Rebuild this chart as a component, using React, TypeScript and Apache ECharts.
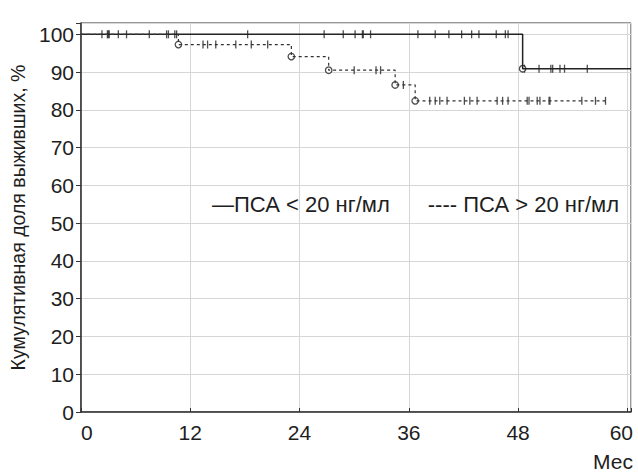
import React, { useEffect, useRef } from 'react';
import * as echarts from 'echarts';

const groupA = 'ПСА < 20 нг/мл';
const groupB = 'ПСА > 20 нг/мл';
const yTitle = 'Кумулятивная доля выживших, %';
const xTitle = 'Мес';

// Kaplan–Meier steps: time (months) and cumulative survival (%) from that time on
const timesA = [0, 48.5, 60.4];
const survA = [100, 90.9, 90.9];
const eventsA = [48.5];
const censorA = [
  2.3, 2.9, 3.0, 3.1, 4.1, 5.0, 7.5, 9.4, 9.6, 10.3, 10.5, 18.3, 26.7, 28.8, 30.1, 30.9, 31.0,
  31.8, 37.0, 38.9, 40.4, 41.8, 42.9, 43.7, 45.6, 46.6, 46.9, 48.7, 50.3, 51.6, 51.8, 52.6, 53.1,
  55.6,
];

const timesB = [0, 10.7, 23.1, 27.2, 34.5, 36.7, 57.9];
const survB = [100, 97.3, 94.1, 90.5, 86.6, 82.4, 82.4];
const eventsB = [10.7, 23.1, 27.2, 34.5, 36.7];
const censorB = [
  13.4, 13.9, 14.8, 17.0, 18.7, 20.5, 30.0, 32.4, 32.9, 35.4, 38.3, 38.9, 39.4, 40.2, 42.1, 42.7,
  43.5, 45.7, 46.3, 46.9, 49.0, 49.2, 50.1, 50.4, 51.4, 51.5, 55.0, 56.5, 57.6,
];

const xMax = 60.4;
const yMax = 103;
const xInterval = 12;
const yInterval = 10;

function levelAt(times: number[], surv: number[], t: number): number {
  let v = surv[0];
  for (let i = 0; i < times.length; i++) if (times[i] <= t) v = surv[i];
  return v;
}

const FONT = 'Liberation Sans, Arial, sans-serif';
const INK = '#1e1e1e';

export default function App() {
  const ref = useRef<HTMLDivElement>(null);
  useEffect(() => {
    const chart = echarts.init(ref.current!, null, { renderer: 'svg' });
    const lineA = timesA.map((t, i) => [t, survA[i]]);
    const lineB = timesB.map((t, i) => [t, survB[i]]);
    const cA = censorA.map((t) => [t, levelAt(timesA, survA, t)]);
    const cB = censorB.map((t) => [t, levelAt(timesB, survB, t)]);
    const eA = eventsA.map((t) => [t, levelAt(timesA, survA, t)]);
    const eB = eventsB.map((t) => [t, levelAt(timesB, survB, t)]);
    chart.setOption({
      animation: false,
      backgroundColor: '#ffffff',
      textStyle: { fontFamily: FONT, color: INK },
      grid: {
        left: 81,
        right: 7,
        top: 23,
        bottom: 62,
        show: true,
        borderColor: '#333',
        borderWidth: 1,
        containLabel: false,
      },
      legend: {
        left: 202,
        top: 188,
        icon: 'none',
        itemWidth: 0,
        itemHeight: 14,
        itemGap: 33,
        data: [{ name: groupA }, { name: groupB }],
        formatter: (name: string) => (name === groupA ? '—' + name : '---- ' + name),
        textStyle: { fontFamily: FONT, fontSize: 22, color: INK },
        selectedMode: false,
      },
      xAxis: {
        type: 'value',
        min: 0,
        max: xMax,
        interval: xInterval,
        axisLine: { show: true, lineStyle: { color: '#333', width: 1.5 } },
        axisTick: { show: true, inside: true, length: 4, lineStyle: { color: '#333' } },
        splitLine: { show: true, lineStyle: { color: '#d6d6d6', width: 1 } },
        axisLabel: {
          margin: 10,
          fontSize: 21,
          fontFamily: FONT,
          color: INK,
          alignMinLabel: 'left',
          formatter: (v: number) =>
            v % xInterval !== 0 ? '' : v === 60 ? '{r|' + v + '}' : String(v),
          rich: { r: { fontSize: 21, fontFamily: FONT, color: INK, padding: [0, 12, 0, 0] } },
        },
      },
      yAxis: {
        type: 'value',
        min: 0,
        max: yMax,
        interval: yInterval,
        name: yTitle,
        nameLocation: 'middle',
        nameGap: 47,
        nameTextStyle: { fontSize: 19.5, fontFamily: FONT, color: INK },
        axisLine: { show: true, lineStyle: { color: '#333', width: 1.5 } },
        axisTick: { show: true, inside: false, length: 5, lineStyle: { color: '#333' } },
        splitLine: { show: true, lineStyle: { color: '#d6d6d6', width: 1 } },
        axisLabel: {
          margin: 7,
          fontSize: 21,
          fontFamily: FONT,
          color: INK,
          formatter: (v: number) => (v % yInterval === 0 && v <= 100 ? String(v) : ''),
        },
      },
      graphic: [
        {
          type: 'text',
          right: 5,
          top: 451,
          style: { text: xTitle, font: `21px ${FONT}`, fill: INK },
        },
      ],
      series: [
        {
          name: groupA,
          type: 'line',
          step: 'end',
          data: lineA,
          symbol: 'none',
          lineStyle: { color: '#222', width: 1.5 },
          itemStyle: { color: '#222' },
        },
        {
          name: groupB,
          type: 'line',
          step: 'end',
          data: lineB,
          symbol: 'none',
          lineStyle: { color: '#333', width: 1.2, type: [3, 3] },
          itemStyle: { color: '#333' },
        },
        {
          name: 'censorA',
          type: 'scatter',
          data: cA,
          symbol: 'rect',
          symbolSize: [1.3, 8],
          itemStyle: { color: '#222' },
        },
        {
          name: 'censorB',
          type: 'scatter',
          data: cB,
          symbol: 'rect',
          symbolSize: [1.3, 8],
          itemStyle: { color: '#222' },
        },
        {
          name: 'eventsA',
          type: 'scatter',
          data: eA,
          symbol: 'circle',
          symbolSize: 6.5,
          itemStyle: { color: '#fff', borderColor: '#222', borderWidth: 1.3 },
        },
        {
          name: 'eventsB',
          type: 'scatter',
          data: eB,
          symbol: 'circle',
          symbolSize: 6.5,
          itemStyle: { color: '#fff', borderColor: '#222', borderWidth: 1.3 },
        },
      ],
    });
    return () => chart.dispose();
  }, []);
  return (
    <div
      ref={ref}
      style={{ position: 'fixed', left: 0, top: 0, width: 638, height: 474 }}
    />
  );
}
